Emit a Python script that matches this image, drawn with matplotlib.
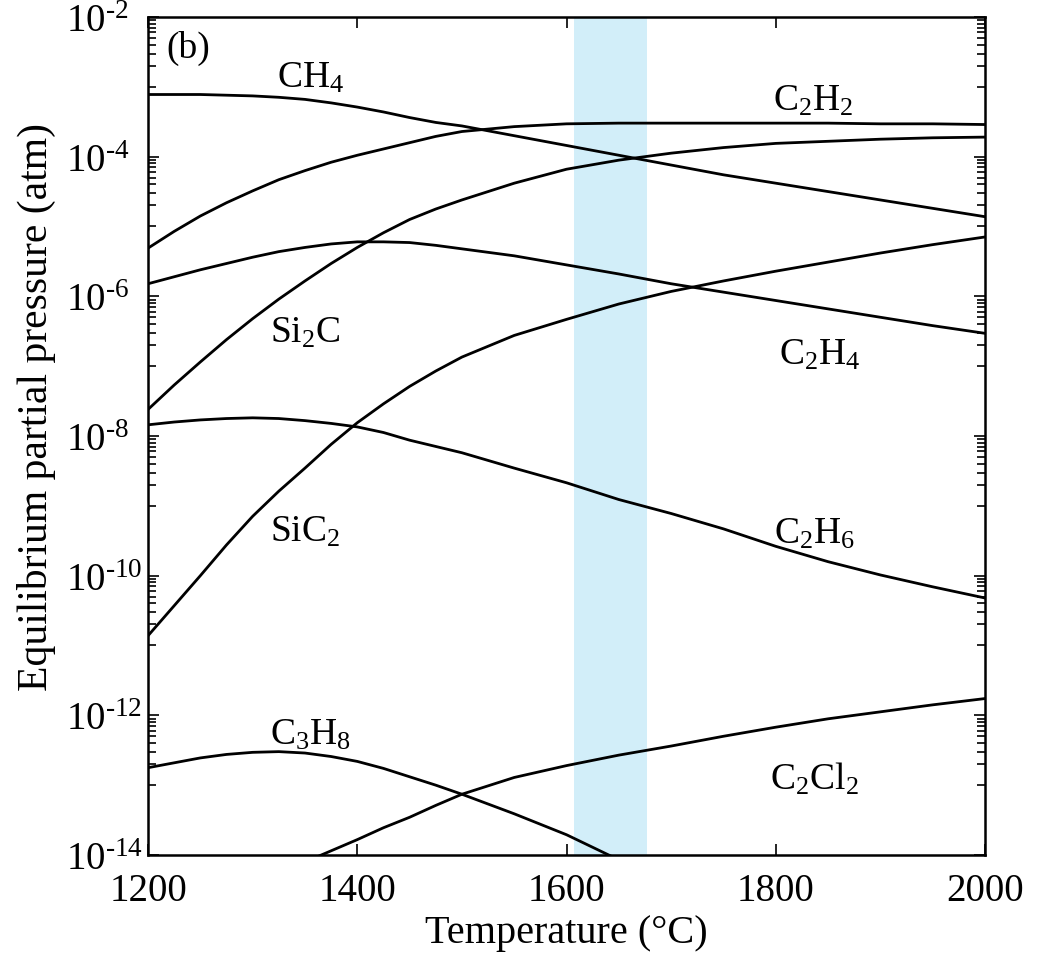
import numpy as np
import matplotlib
matplotlib.use("Agg")
import matplotlib.pyplot as plt
from matplotlib.ticker import FixedLocator, FixedFormatter

plt.rcParams['font.family'] = ['Liberation Serif', 'DejaVu Serif']
plt.rcParams['mathtext.fontset'] = 'custom'
plt.rcParams['mathtext.rm'] = 'Liberation Serif'
plt.rcParams['mathtext.it'] = 'Liberation Serif:italic'

# temperatures (deg C) and log10 of partial pressure (atm)
T = [1200, 1225, 1250, 1275, 1300, 1325, 1350, 1375, 1400, 1425, 1450, 1475,
     1500, 1550, 1600, 1650, 1700, 1750, 1800, 1850, 1900, 1950, 2000]
ch4 = [-3.11, -3.11, -3.11, -3.12, -3.13, -3.15, -3.18, -3.23, -3.29, -3.36,
       -3.44, -3.51, -3.56, -3.70, -3.84, -3.98, -4.12, -4.26, -4.38, -4.50,
       -4.62, -4.74, -4.86]
c2h2 = [-5.31, -5.07, -4.85, -4.66, -4.49, -4.33, -4.20, -4.08, -3.98, -3.89,
        -3.80, -3.71, -3.64, -3.57, -3.53, -3.52, -3.52, -3.52, -3.52, -3.52,
        -3.53, -3.53, -3.54]
c2h4 = [-5.82, -5.72, -5.62, -5.53, -5.44, -5.36, -5.30, -5.25, -5.22, -5.22,
        -5.23, -5.27, -5.32, -5.42, -5.55, -5.68, -5.82, -5.94, -6.06, -6.18,
        -6.30, -6.42, -6.53]
si2c = [-7.62, -7.27, -6.94, -6.62, -6.32, -6.04, -5.78, -5.53, -5.30, -5.09,
        -4.90, -4.75, -4.62, -4.38, -4.18, -4.05, -3.95, -3.87, -3.81, -3.78,
        -3.75, -3.73, -3.72]
c2h6 = [-7.84, -7.80, -7.77, -7.75, -7.74, -7.75, -7.78, -7.82, -7.87, -7.95,
        -8.06, -8.15, -8.24, -8.46, -8.67, -8.91, -9.11, -9.33, -9.58, -9.80,
        -9.99, -10.16, -10.32]
sic2 = [-10.86, -10.43, -10.00, -9.56, -9.15, -8.79, -8.46, -8.12, -7.81,
        -7.54, -7.29, -7.07, -6.87, -6.56, -6.33, -6.11, -5.93, -5.78, -5.64,
        -5.51, -5.38, -5.26, -5.15]

T_c3h8 = [1200, 1225, 1250, 1275, 1300, 1325, 1350, 1375, 1400, 1425, 1450,
          1475, 1500, 1550, 1600, 1650]
c3h8 = [-12.75, -12.68, -12.61, -12.56, -12.53, -12.52, -12.54, -12.59, -12.66,
        -12.76, -12.88, -13.00, -13.13, -13.41, -13.71, -14.07]

T_c2cl2 = [1300, 1350, 1375, 1400, 1425, 1450, 1475, 1500, 1550, 1600, 1650,
           1700, 1750, 1800, 1850, 1900, 1950, 2000]
c2cl2 = [-14.45, -14.10, -13.94, -13.78, -13.61, -13.46, -13.29, -13.13, -12.89,
         -12.72, -12.57, -12.44, -12.30, -12.17, -12.05, -11.95, -11.85, -11.76]

band = (1607, 1677)

labels = [
    ('(b)', 1238, -2.43),
    (r'CH$_4$', 1355, -2.86),
    (r'C$_2$H$_2$', 1836, -3.20),
    (r'Si$_2$C', 1350, -6.51),
    (r'C$_2$H$_4$', 1842, -6.83),
    (r'SiC$_2$', 1350, -9.37),
    (r'C$_2$H$_6$', 1837, -9.40),
    (r'C$_3$H$_8$', 1355, -12.27),
    (r'C$_2$Cl$_2$', 1837, -12.91),
]

fig = plt.figure(figsize=(10.47, 9.62), dpi=100)
ax = fig.add_axes([0.1414, 0.1102, 0.7994, 0.8711])

ax.axvspan(band[0], band[1], color='#d2eef9', lw=0, zorder=0)

series = [(T, ch4), (T, c2h2), (T, c2h4), (T, si2c), (T, c2h6), (T, sic2),
          (T_c3h8, c3h8), (T_c2cl2, c2cl2)]
for xs, ys in series:
    ax.plot(xs, 10.0 ** np.array(ys), color='black', lw=2.0)

for txt, x, y in labels:
    ax.text(x, 10.0 ** y, txt, fontsize=27, ha='center', va='center')

ax.set_yscale('log')
ax.set_xlim(1200, 2000)
ax.set_ylim(1e-14, 1e-2)

major_exp = [-14, -12, -10, -8, -6, -4, -2]
ax.yaxis.set_major_locator(FixedLocator([10.0 ** e for e in major_exp]))
ax.yaxis.set_major_formatter(FixedFormatter(
    [r'$\mathregular{10^{\text{-}%d}}$' % (-e) for e in major_exp]))
minor = []
for e in major_exp[1:]:
    for m in range(1, 10):
        minor.append(m * 10.0 ** (e - 1))
ax.yaxis.set_minor_locator(FixedLocator(minor))
ax.yaxis.set_minor_formatter(FixedFormatter([''] * len(minor)))
ax.set_xticks([1200, 1400, 1600, 1800, 2000])

ax.tick_params(which='both', direction='in', top=True, right=True,
               labelsize=28, width=1.2)
ax.tick_params(which='major', length=8, pad=12)
ax.tick_params(axis='y', which='major', pad=59)
ax.tick_params(which='minor', length=5.5)
for t in ax.yaxis.get_majorticklabels():
    t.set_horizontalalignment('left')
for s in ax.spines.values():
    s.set_linewidth(1.8)

ax.set_xlabel('Temperature (°C)', fontsize=29, labelpad=4)
ax.set_ylabel('Equilibrium partial pressure (atm)', fontsize=30)
ax.yaxis.set_label_coords(-0.110, 0.536)

fig.savefig('out.png', dpi=100)
